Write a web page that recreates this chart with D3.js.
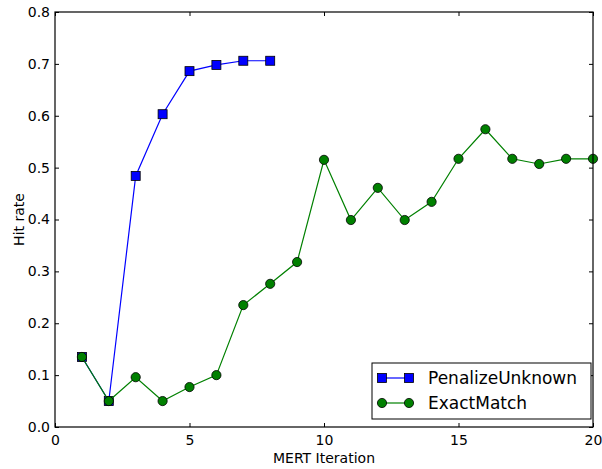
<!DOCTYPE html>
<html>
<head>
<meta charset="utf-8">
<script src="https://cdn.jsdelivr.net/npm/d3@7"></script>
<style>
  body { margin: 0; background: #fff; }
  text { font-family: "DejaVu Sans", sans-serif; fill: #000; }
</style>
</head>
<body>
<div id="chart"></div>
<script>
// data
const iterations = [1, 2, 3, 4, 5, 6, 7, 8, 9, 10, 11, 12, 13, 14, 15, 16, 17, 18, 19, 20];
const penalizeUnknown = [0.135, 0.050, 0.484, 0.603, 0.686, 0.698, 0.706, 0.706];
const exactMatch = [0.135, 0.050, 0.096, 0.050, 0.077, 0.100, 0.235, 0.276, 0.318, 0.515,
  0.399, 0.461, 0.399, 0.434, 0.517, 0.574, 0.517, 0.507, 0.517, 0.517];
const xTicks = [0, 5, 10, 15, 20];
const yTicks = [0.0, 0.1, 0.2, 0.3, 0.4, 0.5, 0.6, 0.7, 0.8];

const W = 602, H = 469;
const margin = { top: 12, right: 9, bottom: 42, left: 55 };
const width = W - margin.left - margin.right;
const height = H - margin.top - margin.bottom;

const svg = d3.select("#chart").append("svg")
  .attr("width", W).attr("height", H);
const g = svg.append("g")
  .attr("transform", `translate(${margin.left},${margin.top})`);

const x = d3.scaleLinear().domain([0, 20]).range([0, width]);
const y = d3.scaleLinear().domain([0, 0.8]).range([height, 0]);

// series
const series = [
  { name: "PenalizeUnknown", values: penalizeUnknown, color: "#0000ff", marker: "square" },
  { name: "ExactMatch", values: exactMatch, color: "#008000", marker: "circle" }
];

const line = d3.line()
  .x((d, i) => x(iterations[i]))
  .y(d => y(d));

function drawMarker(sel, type, color) {
  if (type === "square") {
    sel.append("rect")
      .attr("x", -4.5).attr("y", -4.5).attr("width", 9).attr("height", 9)
      .attr("fill", color).attr("stroke", "#000").attr("stroke-width", 0.8);
  } else {
    sel.append("circle")
      .attr("r", 4.6)
      .attr("fill", color).attr("stroke", "#000").attr("stroke-width", 0.8);
  }
}

series.forEach(s => {
  g.append("path")
    .datum(s.values)
    .attr("d", line)
    .attr("fill", "none")
    .attr("stroke", s.color)
    .attr("stroke-width", 1.2);
  g.selectAll(null)
    .data(s.values)
    .enter()
    .append("g")
    .attr("transform", (d, i) => `translate(${x(iterations[i])},${y(d)})`)
    .each(function() { drawMarker(d3.select(this), s.marker, s.color); });
});

// axes with inward ticks (matplotlib classic)
const tickLen = 4;
g.append("g")
  .attr("transform", `translate(0,${height})`)
  .call(d3.axisBottom(x).tickValues(xTicks).tickFormat(d3.format("d"))
    .tickSizeInner(-tickLen).tickSizeOuter(0).tickPadding(8));
g.append("g")
  .attr("transform", `translate(0,0)`)
  .call(d3.axisTop(x).tickValues(xTicks).tickFormat("")
    .tickSizeInner(-tickLen).tickSizeOuter(0));
g.append("g")
  .call(d3.axisLeft(y).tickValues(yTicks).tickFormat(d3.format(".1f"))
    .tickSizeInner(-tickLen).tickSizeOuter(0).tickPadding(5));
g.append("g")
  .attr("transform", `translate(${width},0)`)
  .call(d3.axisRight(y).tickValues(yTicks).tickFormat("")
    .tickSizeInner(-tickLen).tickSizeOuter(0));

g.selectAll(".domain").remove();
g.selectAll(".tick line").attr("stroke", "#000").attr("stroke-width", 1);
g.selectAll(".tick text")
  .style("font-family", "DejaVu Sans, sans-serif")
  .style("font-size", "14px");

// frame
g.append("rect")
  .attr("width", width).attr("height", height)
  .attr("fill", "none").attr("stroke", "#000").attr("stroke-width", 1.2);

// axis labels
svg.append("text")
  .attr("x", margin.left + width / 2).attr("y", H - 6)
  .attr("text-anchor", "middle")
  .style("font-size", "14px")
  .text("MERT Iteration");
svg.append("text")
  .attr("transform", `translate(24,${margin.top + height / 2}) rotate(-90)`)
  .attr("text-anchor", "middle")
  .style("font-size", "14px")
  .text("Hit rate");

// legend
const legend = svg.append("g").attr("transform", "translate(372,363)");
legend.append("rect")
  .attr("width", 219).attr("height", 56)
  .attr("fill", "#fff").attr("stroke", "#000").attr("stroke-width", 1);
series.forEach((s, i) => {
  const row = legend.append("g").attr("transform", `translate(0,${15 + i * 25})`);
  row.append("line")
    .attr("x1", 10).attr("x2", 37).attr("y1", 0).attr("y2", 0)
    .attr("stroke", s.color).attr("stroke-width", 1.2);
  [10, 37].forEach(px => {
    const m = row.append("g").attr("transform", `translate(${px},0)`);
    drawMarker(m, s.marker, s.color);
  });
  row.append("text")
    .attr("x", 56).attr("y", 0).attr("dy", "0.35em")
    .style("font-size", "17px")
    .text(s.name);
});
</script>
</body>
</html>
